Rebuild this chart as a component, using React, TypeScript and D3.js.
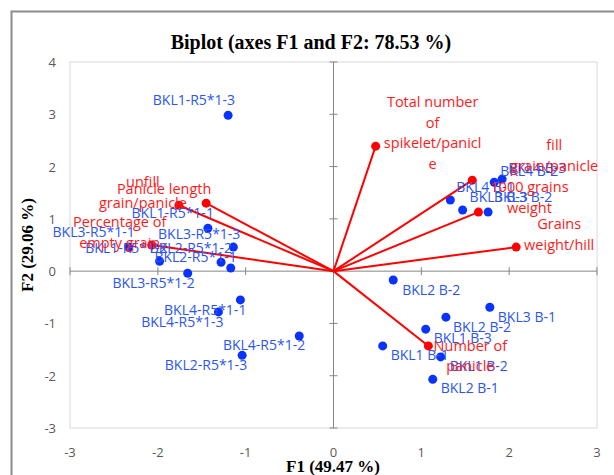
import React from "react";
import * as d3 from "d3";

// observations (blue points)
const obsNames = [
  "BKL1-R5*1-3", "BKL1-R5*1-1", "BKL3-R5*1-3", "BKL3-R5*1-1", "BKL1-R5*1-2", "BKL2-R5*1-2",
  "BKL2-R5*1-1", "BKL3-R5*1-2", "BKL4-R5*1-1", "BKL4-R5*1-3", "BKL4-R5*1-2", "BKL2-R5*1-3",
  "BKL4 B-1", "BKL3 B-3", "BKL3 B-2", "BKL4 B-2", "BKL4 B-3",
  "BKL2 B-2", "BKL3 B-1", "BKL2 B-2", "BKL1 B-3", "BKL1 B-1", "BKL1 B-2", "BKL2 B-1",
];
const obsF1 = [
  -1.2, -1.43, -1.14, -2.33, -1.98, -1.28, -1.17, -1.66, -1.06, -1.31, -0.39, -1.04,
  1.33, 1.47, 1.76, 1.83, 1.92,
  0.68, 1.78, 1.28, 1.05, 0.56, 1.22, 1.13,
];
const obsF2 = [
  2.98, 0.82, 0.46, 0.46, 0.19, 0.17, 0.06, -0.04, -0.55, -0.78, -1.24, -1.61,
  1.36, 1.17, 1.13, 1.7, 1.76,
  -0.17, -0.69, -0.88, -1.11, -1.43, -1.64, -2.07,
];

// variables (red vectors)
const varLabelLines = [
  ["Total number", "of", "spikelet/panicl", "e"],
  ["fill", "grain/panicle"],
  ["1000 grains", "weight"],
  ["Grains", "weight/hill"],
  ["Number of", "panicle"],
  ["Panicle length"],
  ["unfill", "grain/panicle"],
  ["Percentage of", "empty grain"],
];
const varF1 = [0.48, 1.58, 1.65, 2.08, 1.08, -1.45, -1.76, -2.07];
const varF2 = [2.39, 1.74, 1.13, 0.46, -1.43, 1.3, 1.26, 0.5];

const xTicks = [-3, -2, -1, 0, 1, 2, 3];
const yTicks = [-3, -2, -1, 0, 1, 2, 3, 4];

// label placement (dx, dy, anchor) relative to the point
const obsLabelPos: [number, number, string][] = [
  [7, -15, "end"], [6, -15, "end"], [7, -13, "end"], [6, -15, "end"], [8, -13, "end"], [11, -14, "end"],
  [6, -11, "end"], [7, 10, "end"], [6, 10, "end"], [5, 10, "end"], [6, 9, "end"], [5, 10, "end"],
  [6, -13, "start"], [7, -13, "start"], [6, -15, "start"], [6, -11, "start"], [6, -11, "start"],
  [9, 10, "start"], [8, 10, "start"], [7, 10, "start"], [8, 9, "start"], [8, 9, "start"], [9, 9, "start"], [8, 9, "start"],
];
const varLabelPos: [number, number][] = [
  [57, -44], [82, -35], [51, -25], [43, -23], [42, 0], [-42, -14], [-36, -23], [-32, -23],
];

const W = 614;
const H = 475;
const sans = "'Open Sans', sans-serif";
const serif = "'Liberation Serif', 'Times New Roman', serif";

export default function App() {
  const x = d3.scaleLinear().domain([-3, 3]).range([70, 597]);
  const y = d3.scaleLinear().domain([-3, 4]).range([428, 62]);
  const x0 = x(0);
  const y0 = y(0);

  return (
    <svg width={W} height={H} style={{ position: "absolute", left: 0, top: 0, background: "#fff" }}>
      <rect x={11.5} y={11.5} width={W} height={H} fill="#fff" stroke="#8c8c8c" strokeWidth={2} />
      <text x={311} y={49} textAnchor="middle" fontFamily={serif} fontWeight="bold" fontSize={20}>
        Biplot (axes F1 and F2: 78.53 %)
      </text>

      {/* plot frame */}
      <rect x={70} y={62} width={527} height={366} fill="none" stroke="#d9d9d9" strokeWidth={1} />

      {/* zero axes */}
      <line x1={70} x2={597} y1={y0} y2={y0} stroke="#868686" />
      <line x1={x0} x2={x0} y1={62} y2={428} stroke="#868686" />
      {xTicks.map((t) => (
        <line key={"xt" + t} x1={x(t)} x2={x(t)} y1={y0 - 4} y2={y0 + 4} stroke="#868686" />
      ))}
      {yTicks.map((t) => (
        <line key={"yt" + t} x1={x0 - 4} x2={x0 + 4} y1={y(t)} y2={y(t)} stroke="#868686" />
      ))}

      {xTicks.map((t) => (
        <text key={"xl" + t} x={x(t)} y={457} textAnchor="middle" fontFamily={sans} fontSize={13} fill="#595959">
          {t}
        </text>
      ))}
      {yTicks.map((t) => (
        <text key={"yl" + t} x={56} y={y(t) + 5} textAnchor="end" fontFamily={sans} fontSize={13} fill="#595959">
          {t}
        </text>
      ))}

      <text x={333} y={472} textAnchor="middle" fontFamily={serif} fontWeight="bold" fontSize={17}>
        F1 (49.47 %)
      </text>
      <text
        transform={`translate(33,245) rotate(-90)`}
        textAnchor="middle"
        fontFamily={serif}
        fontWeight="bold"
        fontSize={17}
      >
        F2 (29.06 %)
      </text>

      {/* observations */}
      {obsNames.map((n, i) => (
        <circle key={"o" + i} cx={x(obsF1[i])} cy={y(obsF2[i])} r={4.5} fill="#0a32ff" />
      ))}

      {/* variable vectors */}
      {varF1.map((v, i) => (
        <g key={"v" + i}>
          <line x1={x0} y1={y0} x2={x(v)} y2={y(varF2[i])} stroke="#ff0000" strokeWidth={2} />
          <circle cx={x(v)} cy={y(varF2[i])} r={4.5} fill="#ff0000" />
        </g>
      ))}

      {obsNames.map((n, i) => (
        <text
          key={"ol" + i}
          x={x(obsF1[i]) + obsLabelPos[i][0]}
          y={y(obsF2[i]) + obsLabelPos[i][1] + 5}
          textAnchor={obsLabelPos[i][2]}
          fontFamily={sans}
          fontSize={14}
          fill="#2b55f2"
        >
          {n}
        </text>
      ))}

      {varLabelLines.map((lines, i) => (
        <text
          key={"vl" + i}
          textAnchor="middle"
          fontFamily={sans}
          fontSize={14.5}
          fill="#ff1a1a"
        >
          {lines.map((l, j) => (
            <tspan key={j} x={x(varF1[i]) + varLabelPos[i][0]} y={y(varF2[i]) + varLabelPos[i][1] + 5 + j * 20.5}>
              {l}
            </tspan>
          ))}
        </text>
      ))}
    </svg>
  );
}
